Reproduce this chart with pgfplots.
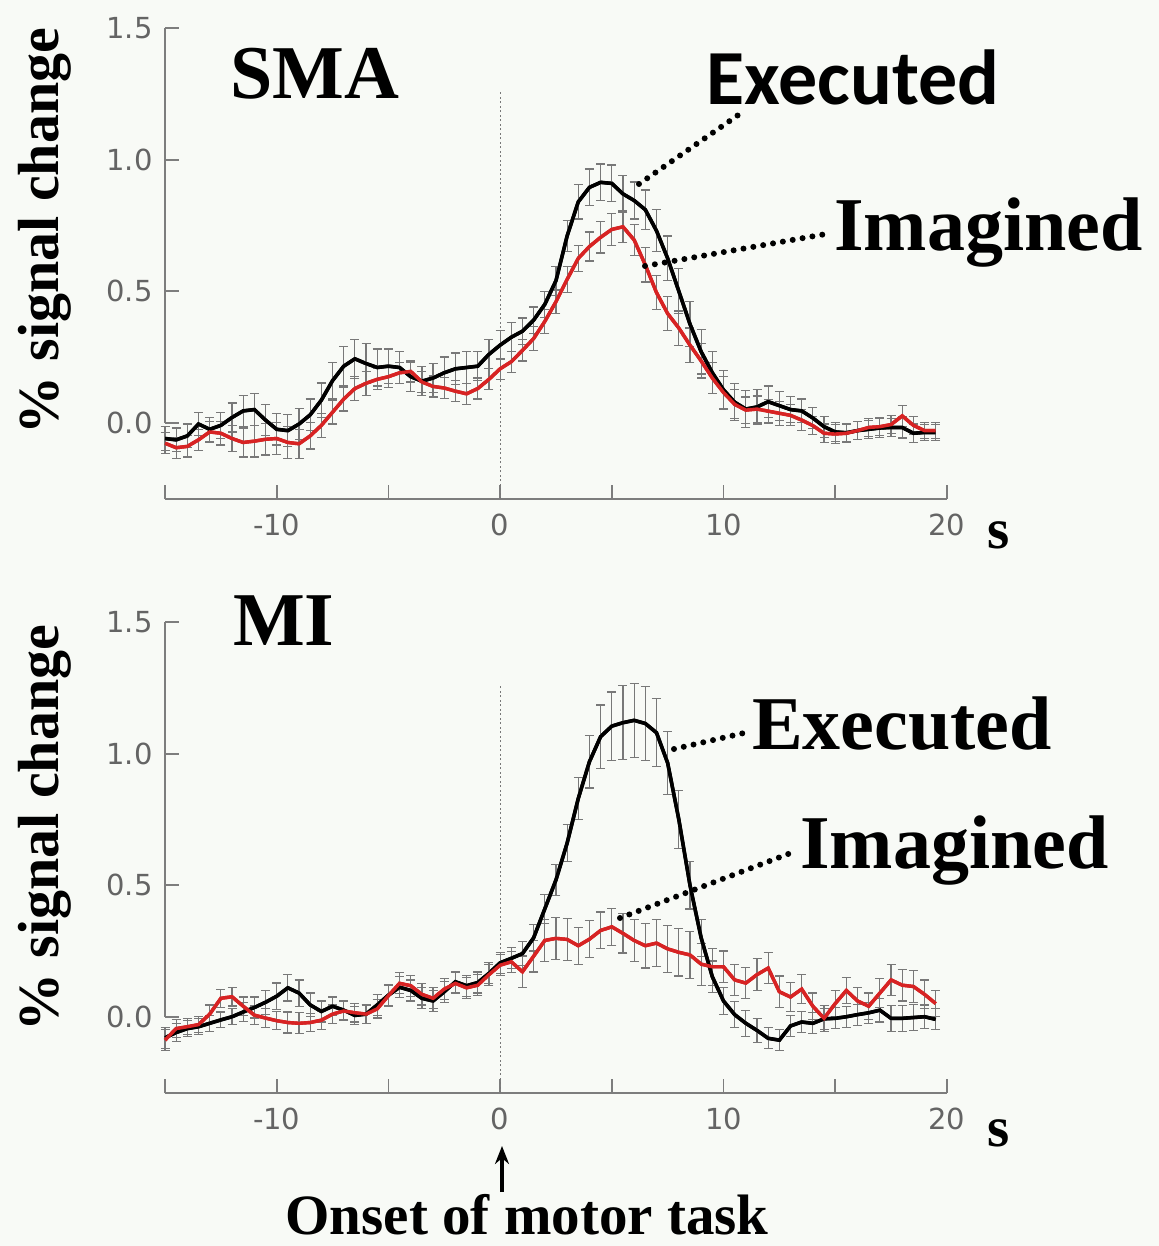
\documentclass[border=0pt]{standalone}
\usepackage{fontspec}
\setmainfont{Liberation Serif}
\newfontfamily\tickfont{DejaVu Sans}
\newfontfamily\calib{Carlito}
\usepackage{pgfplots}
\usepackage{pgfplotstable}
\pgfplotsset{compat=1.18}
\usetikzlibrary{arrows.meta}
\definecolor{bg}{RGB}{248,250,246}
\definecolor{axgray}{RGB}{125,125,125}
\definecolor{tickgray}{RGB}{100,100,100}
\definecolor{errgray}{RGB}{120,120,120}
\definecolor{myred}{RGB}{215,35,35}

\pgfplotstableread{
t e ee i ei
-15 -0.060 0.045 -0.078 0.040
-14.5 -0.065 0.045 -0.095 0.040
-14 -0.050 0.045 -0.090 0.040
-13.5 -0.005 0.045 -0.065 0.040
-13 -0.025 0.045 -0.035 0.040
-12.5 -0.010 0.050 -0.040 0.045
-12 0.020 0.055 -0.060 0.050
-11.5 0.045 0.060 -0.075 0.055
-11 0.050 0.060 -0.070 0.060
-10.5 0.010 0.060 -0.063 0.060
-10 -0.025 0.060 -0.060 0.060
-9.5 -0.030 0.060 -0.075 0.060
-9 -0.005 0.060 -0.080 0.055
-8.5 0.030 0.060 -0.050 0.050
-8 0.086 0.065 -0.010 0.045
-7.5 0.160 0.070 0.040 0.045
-7 0.215 0.075 0.090 0.045
-6.5 0.243 0.075 0.130 0.045
-6 0.225 0.075 0.150 0.045
-5.5 0.210 0.070 0.165 0.040
-5 0.215 0.065 0.175 0.040
-4.5 0.210 0.060 0.190 0.040
-4 0.175 0.055 0.195 0.040
-3.5 0.158 0.055 0.155 0.040
-3 0.170 0.055 0.138 0.040
-2.5 0.190 0.060 0.132 0.040
-2 0.205 0.060 0.120 0.040
-1.5 0.210 0.060 0.110 0.040
-1 0.215 0.055 0.130 0.040
-0.5 0.260 0.055 0.165 0.040
0 0.295 0.055 0.205 0.040
0.5 0.325 0.055 0.232 0.040
1 0.348 0.050 0.275 0.040
1.5 0.390 0.050 0.320 0.045
2 0.450 0.050 0.385 0.045
2.5 0.540 0.055 0.460 0.045
3 0.710 0.060 0.545 0.050
3.5 0.840 0.065 0.625 0.050
4 0.895 0.070 0.670 0.055
4.5 0.914 0.070 0.705 0.060
5 0.910 0.070 0.735 0.060
5.5 0.870 0.070 0.745 0.060
6 0.845 0.070 0.695 0.060
6.5 0.810 0.075 0.600 0.065
7 0.730 0.080 0.495 0.065
7.5 0.625 0.085 0.415 0.065
8 0.500 0.085 0.360 0.065
8.5 0.375 0.085 0.295 0.065
9 0.270 0.085 0.235 0.065
9.5 0.190 0.080 0.170 0.060
10 0.125 0.075 0.115 0.060
10.5 0.078 0.070 0.070 0.055
11 0.052 0.070 0.048 0.050
11.5 0.060 0.065 0.052 0.050
12 0.080 0.060 0.044 0.045
12.5 0.065 0.055 0.036 0.045
13 0.050 0.050 0.028 0.040
13.5 0.045 0.045 0.010 0.040
14 0.018 0.040 -0.011 0.035
14.5 -0.015 0.040 -0.040 0.035
15 -0.035 0.035 -0.043 0.035
15.5 -0.038 0.035 -0.040 0.035
16 -0.030 0.035 -0.030 0.035
16.5 -0.025 0.035 -0.018 0.035
17 -0.020 0.035 -0.015 0.035
17.5 -0.018 0.035 -0.007 0.035
18 -0.018 0.040 0.026 0.040
18.5 -0.040 0.035 -0.010 0.035
19 -0.037 0.030 -0.030 0.030
19.5 -0.037 0.030 -0.030 0.030
}\smadata

\pgfplotstableread{
t e ee i ei
-15 -0.080 0.040 -0.089 0.040
-14.5 -0.060 0.035 -0.045 0.035
-14 -0.045 0.030 -0.038 0.030
-13.5 -0.038 0.030 -0.030 0.030
-13 -0.025 0.030 0.010 0.035
-12.5 -0.012 0.030 0.070 0.035
-12 0.000 0.030 0.076 0.035
-11.5 0.018 0.035 0.040 0.035
-11 0.035 0.040 0.006 0.035
-10.5 0.055 0.045 -0.005 0.035
-10 0.078 0.050 -0.015 0.035
-9.5 0.110 0.050 -0.022 0.040
-9 0.090 0.050 -0.025 0.040
-8.5 0.045 0.045 -0.022 0.035
-8 0.020 0.040 -0.013 0.035
-7.5 0.040 0.035 0.010 0.035
-7 0.025 0.035 0.022 0.035
-6.5 0.005 0.035 0.015 0.035
-6 0.010 0.035 0.010 0.035
-5.5 0.045 0.040 0.030 0.035
-5 0.082 0.040 0.080 0.040
-4.5 0.112 0.040 0.127 0.040
-4 0.100 0.040 0.118 0.040
-3.5 0.070 0.040 0.085 0.040
-3 0.060 0.040 0.070 0.040
-2.5 0.095 0.040 0.105 0.040
-2 0.133 0.040 0.127 0.040
-1.5 0.118 0.040 0.110 0.040
-1 0.130 0.040 0.120 0.040
-0.5 0.165 0.040 0.160 0.040
0 0.205 0.040 0.196 0.040
0.5 0.222 0.040 0.209 0.040
1 0.240 0.045 0.171 0.060
1.5 0.300 0.050 0.230 0.060
2 0.410 0.055 0.290 0.080
2.5 0.520 0.060 0.298 0.080
3 0.660 0.070 0.294 0.080
3.5 0.830 0.080 0.270 0.070
4 0.970 0.100 0.295 0.070
4.5 1.065 0.120 0.328 0.070
5 1.105 0.130 0.342 0.070
5.5 1.118 0.140 0.317 0.075
6 1.127 0.140 0.290 0.080
6.5 1.115 0.140 0.270 0.085
7 1.080 0.130 0.280 0.090
7.5 0.965 0.120 0.258 0.090
8 0.750 0.110 0.245 0.090
8.5 0.500 0.090 0.235 0.090
9 0.300 0.070 0.200 0.080
9.5 0.152 0.060 0.190 0.070
10 0.060 0.050 0.190 0.060
10.5 0.008 0.050 0.140 0.060
11 -0.025 0.050 0.128 0.060
11.5 -0.052 0.045 0.160 0.060
12 -0.082 0.040 0.185 0.060
12.5 -0.089 0.040 0.095 0.060
13 -0.035 0.040 0.075 0.055
13.5 -0.020 0.040 0.105 0.055
14 -0.025 0.040 0.040 0.050
14.5 -0.008 0.040 -0.006 0.050
15 -0.006 0.040 0.050 0.050
15.5 0.000 0.040 0.100 0.050
16 0.008 0.040 0.060 0.050
16.5 0.015 0.040 0.040 0.050
17 0.025 0.045 0.090 0.055
17.5 -0.006 0.050 0.140 0.060
18 -0.006 0.050 0.120 0.060
18.5 -0.003 0.050 0.115 0.060
19 0.000 0.045 0.085 0.055
19.5 -0.010 0.040 0.050 0.050
}\midata

\pgfplotsset{
  myaxis/.style={
    scale only axis, x=22.34bp, y=263bp,
    xmin=-15, xmax=20, ymin=-0.29, ymax=1.5,
    axis x line=bottom, axis y line=left,
    x axis line style={-, draw=axgray, line width=2.5bp},
    y axis line style={draw=none},
    tick align=inside,
    major tick length=14bp,
    tick style={draw=axgray, line width=1.6bp},
    xtick={-15,-10,...,20},
    xticklabels={,-10,,0,,10,,20},
    ytick={0,0.5,1,1.5},
    yticklabels={0.0,0.5,1.0,1.5},
    ticklabel style={font=\tickfont\fontsize{29bp}{34bp}\selectfont, text=tickgray},
    xticklabel style={yshift=-11bp},
    yticklabel style={xshift=-9bp},
    clip=false,
  },
  errplot/.style={line width=3.4bp, mark=none,
    error bars/.cd, y dir=both, y explicit,
    error mark=|,
    error bar style={draw=errgray, line width=1.2bp},
    error mark options={draw=errgray, mark size=4.5bp, line width=1.2bp}},
}

\begin{document}
\begin{tikzpicture}
\fill[bg] (0,0) rectangle (1159bp,-1246bp);
\path[use as bounding box] (0,0) rectangle (1159bp,-1246bp);

% ---------- SMA ----------
\begin{axis}[myaxis, at={(165bp,-499bp)}, anchor=south west]
\draw[axgray, line width=2.5bp] (axis cs:-15,0) -- (axis cs:-15,1.5);
\draw[errgray, line width=1bp, dash pattern=on 2bp off 2.5bp] (axis cs:0,-0.29) -- (axis cs:0,1.26);
\addplot[black, errplot] table[x=t, y=e, y error=ee] {\smadata};
\addplot[myred, errplot] table[x=t, y=i, y error=ei] {\smadata};
\addplot[black, line width=3.6bp, mark=none] table[x=t, y=e] {\smadata};
\addplot[myred, line width=3.4bp, mark=none] table[x=t, y=i] {\smadata};
\end{axis}

% ---------- MI ----------
\begin{axis}[myaxis, at={(165bp,-1093bp)}, anchor=south west]
\draw[axgray, line width=2.5bp] (axis cs:-15,0) -- (axis cs:-15,1.5);
\draw[errgray, line width=1bp, dash pattern=on 2bp off 2.5bp] (axis cs:0,-0.29) -- (axis cs:0,1.26);
\addplot[black, errplot] table[x=t, y=e, y error=ee] {\midata};
\addplot[myred, errplot] table[x=t, y=i, y error=ei] {\midata};
\addplot[black, line width=3.6bp, mark=none] table[x=t, y=e] {\midata};
\addplot[myred, line width=3.4bp, mark=none] table[x=t, y=i] {\midata};
\end{axis}

% ---------- annotations ----------
\tikzset{big/.style={font=\fontsize{76bp}{80bp}\selectfont\bfseries, inner sep=0pt},
         lead/.style={black, line width=6bp, line cap=round, dash pattern=on 0bp off 10bp}}
\node[big, anchor=base west] at (230bp,-98bp) {SMA};
\node[big, anchor=base west] at (233bp,-645bp) {MI};

\node[font=\calib\fontsize{78bp}{80bp}\selectfont\bfseries, inner sep=0pt, anchor=base west] at (706bp,-104bp) {Executed};
\draw[lead] (639bp,-184bp) -- (744bp,-111bp);
\node[big, anchor=base west] at (834bp,-250bp) {Imagined};
\draw[lead] (645bp,-266bp) -- (826bp,-234bp);

\node[big, anchor=base west] at (752bp,-749bp) {Executed};
\draw[lead] (674bp,-749bp) -- (744bp,-733bp);
\node[big, anchor=base west] at (800bp,-868bp) {Imagined};
\draw[lead] (620bp,-918bp) -- (796bp,-851bp);

\node[rotate=90, font=\fontsize{58bp}{60bp}\selectfont\bfseries, inner sep=0pt] at (45bp,-231bp) {\% signal change};
\node[rotate=90, font=\fontsize{58bp}{60bp}\selectfont\bfseries, inner sep=0pt] at (45bp,-828bp) {\% signal change};

\node[font=\fontsize{57bp}{60bp}\selectfont\bfseries, inner sep=0pt, anchor=base west] at (987bp,-548bp) {s};
\node[font=\fontsize{57bp}{60bp}\selectfont\bfseries, inner sep=0pt, anchor=base west] at (987bp,-1146bp) {s};

\draw[black, line width=4bp, -{Stealth[length=18bp,width=14bp]}] (502bp,-1192bp) -- (502bp,-1146bp);
\node[font=\fontsize{57bp}{60bp}\selectfont\bfseries, inner sep=0pt, anchor=base] at (527bp,-1234bp) {Onset of motor task};
\end{tikzpicture}
\end{document}
